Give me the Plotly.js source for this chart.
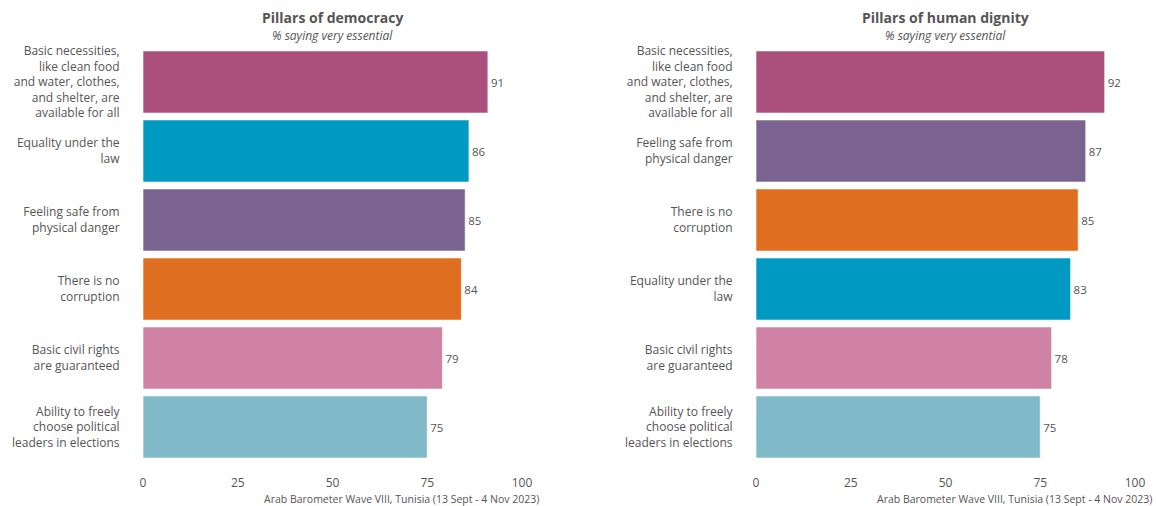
<!DOCTYPE html>
<html>
<head>
<meta charset="utf-8">
<script src="https://cdn.plot.ly/plotly-3.0.1.min.js"></script>
<style>html,body{margin:0;padding:0;background:#fff;}#chart{width:1156px;height:506px;}</style>
</head>
<body>
<div id="chart"></div>
<script>
// ---- data ----
const democracyCategories = [
  "Basic necessities,<br>like clean food<br>and water, clothes,<br>and shelter, are<br>available for all",
  "Equality under the<br>law",
  "Feeling safe from<br>physical danger",
  "There is no<br>corruption",
  "Basic civil rights<br>are guaranteed",
  "Ability to freely<br>choose political<br>leaders in elections"
];
const democracyValues = [91, 86, 85, 84, 79, 75];

const dignityCategories = [
  "Basic necessities,<br>like clean food<br>and water, clothes,<br>and shelter, are<br>available for all",
  "Feeling safe from<br>physical danger",
  "There is no<br>corruption",
  "Equality under the<br>law",
  "Basic civil rights<br>are guaranteed",
  "Ability to freely<br>choose political<br>leaders in elections"
];
const dignityValues = [92, 87, 85, 83, 78, 75];

const xTickValues = [0, 25, 50, 75, 100];
const leftTitle = "Pillars of democracy";
const rightTitle = "Pillars of human dignity";
const subtitle = "% saying very essential";
const caption = "Arab Barometer Wave VIII, Tunisia (13 Sept - 4 Nov 2023)";

// ---- styles ----
const colorMap = {
  "Basic necessities": "#AB4F7D",
  "Equality under": "#0099C2",
  "Feeling safe": "#7A6390",
  "There is no": "#E06E20",
  "Basic civil": "#CF82A3",
  "Ability to": "#80BAC8"
};
function colorFor(cat) {
  for (const k in colorMap) if (cat.startsWith(k)) return colorMap[k];
  return "#999";
}
const FONT = "Open Sans, Lato, sans-serif";
const TXT = "#555555";

const traceBase = {
  type: "bar",
  orientation: "h",
  texttemplate: "%{x}",
  textposition: "outside",
  textfont: {family: FONT, size: 11.5, color: TXT},
  cliponaxis: false,
  hoverinfo: "x+y",
  showlegend: false
};

const traces = [
  Object.assign({}, traceBase, {
    x: democracyValues, y: democracyCategories,
    marker: {color: democracyCategories.map(colorFor), line: {color: "rgba(255,255,255,0.6)", width: 1}},
    xaxis: "x", yaxis: "y"
  }),
  Object.assign({}, traceBase, {
    x: dignityValues, y: dignityCategories,
    marker: {color: dignityCategories.map(colorFor), line: {color: "rgba(255,255,255,0.6)", width: 1}},
    xaxis: "x2", yaxis: "y2"
  })
];

const W = 1156, H = 506;
const yDom = [(H - 461.5) / H, (H - 47.5) / H];
const xAxisBase = {
  range: [0, 100], tickvals: xTickValues, showgrid: false, zeroline: false, showline: false,
  ticks: "outside", ticklen: 10, tickcolor: "rgba(0,0,0,0)",
  tickfont: {family: FONT, size: 12, color: TXT}, fixedrange: true
};
const yAxisBase = {
  autorange: "reversed", showgrid: false, zeroline: false, showline: false,
  ticks: "outside", ticklen: 20, tickcolor: "rgba(0,0,0,0)",
  tickfont: {family: FONT, size: 12, color: TXT}, fixedrange: true
};

function titleAnn(text, cx, cy, size) {
  return {text: text, xref: "paper", yref: "paper", x: cx / W, y: (H - cy) / H,
          xanchor: "center", yanchor: "middle", showarrow: false, borderpad: 0,
          font: {family: FONT, size: size, color: TXT}};
}

const layout = {
  width: W, height: H,
  margin: {l: 0, r: 0, t: 0, b: 0},
  paper_bgcolor: "#fff", plot_bgcolor: "#fff",
  bargap: 0.1,
  font: {family: FONT, color: TXT},
  xaxis: Object.assign({}, xAxisBase, {domain: [143 / W, 522 / W], anchor: "y"}),
  yaxis: Object.assign({}, yAxisBase, {domain: yDom, anchor: "x"}),
  xaxis2: Object.assign({}, xAxisBase, {domain: [756 / W, 1135 / W], anchor: "y2"}),
  yaxis2: Object.assign({}, yAxisBase, {domain: yDom, anchor: "x2"}),
  annotations: [
    titleAnn("<b>" + leftTitle + "</b>", 332.5, 17.5, 14),
    titleAnn("<i>" + subtitle + "</i>", 332.5, 35, 12),
    titleAnn("<b>" + rightTitle + "</b>", 945.5, 17.5, 14),
    titleAnn("<i>" + subtitle + "</i>", 945.5, 35, 12),
    {text: caption, xref: "paper", yref: "paper", x: 541 / W, y: (H - 499) / H,
     xanchor: "right", yanchor: "middle", showarrow: false, font: {family: FONT, size: 10.5, color: TXT}},
    {text: caption, xref: "paper", yref: "paper", x: 1154 / W, y: (H - 499) / H,
     xanchor: "right", yanchor: "middle", showarrow: false, font: {family: FONT, size: 10.5, color: TXT}}
  ]
};

Plotly.newPlot("chart", traces, layout, {displayModeBar: false, staticPlot: false});
</script>
</body>
</html>
